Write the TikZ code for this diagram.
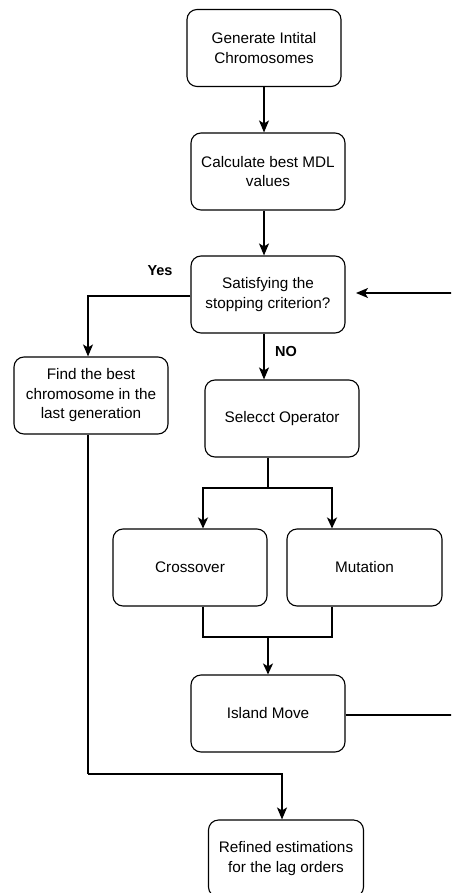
\documentclass[tikz,border=0pt]{standalone}
\usepackage{fontspec}
\setmainfont{Liberation Sans}
\usetikzlibrary{arrows.meta}
\begin{document}
\begin{tikzpicture}[x=1pt,y=-1pt,
  box/.style={draw=black,line width=1.1pt,rounded corners=10pt,minimum width=154pt,minimum height=77pt,align=center,inner sep=2pt,font=\fontsize{15.3}{19.5}\selectfont},
  conn/.style={line width=1.3pt,-{Stealth[length=12pt,width=10pt,inset=3pt]}},
  line/.style={line width=1.3pt},
  tconn/.style={line width=2.6pt,-{Stealth[length=11pt,width=10pt,inset=3pt]}},
  tline/.style={line width=2.6pt},
  lbl/.style={font=\fontsize{14.5}{17}\selectfont\bfseries,inner sep=0pt}]
\useasboundingbox (0,0) rectangle (451,893);
\clip (0,0) rectangle (451,893);
\node[box] (b1) at (264,48) {Generate Intital\\Chromosomes};
\node[box] (b2) at (268,171.5) {Calculate best MDL\\values};
\node[box] (b3) at (268,294.5) {Satisfying the\\stopping criterion?};
\node[box] (b4) at (91,395.5) {Find the best\\chromosome in the\\last generation};
\node[box] (b5) at (282,418.5) {Selecct Operator};
\node[box] (cx) at (190,567.5) {Crossover};
\node[box,minimum width=155pt] (mu) at (364.5,567.5) {Mutation};
\node[box] (im) at (268,713.5) {Island Move};
\node[box,minimum width=155pt] (rf) at (286,858.5) {Refined estimations\\for the lag orders};
\node[lbl] (yes) at (160,271) {Yes};
\node[lbl] (no) at (286,352) {NO};
\coordinate (split) at (268,488);
\coordinate (merge) at (268,637);
\coordinate (loopA) at (452,715);
\coordinate (loopB) at (452,293);
\coordinate (loopTip) at (356,293);
\coordinate (yesY) at (0,296);
\coordinate (corner) at (88,774);
\draw[conn] (b1.south) -- (b1.south |- b2.north);
\draw[conn] (b2.south -| b1.south) -- (b3.north -| b1.south);
\draw[conn] (b3.south -| b1.south) -- (b5.north -| b1.south);
\draw[conn] (b3.west |- yesY) -| ([xshift=-3pt]b4.north);
\draw[tline] (b5.south -| split) -- (split);
\draw[tconn] (split) -| ([xshift=13pt]cx.north);
\draw[tconn] (split) -| ([xshift=-32.5pt]mu.north);
\draw[tline] ([xshift=13pt]cx.south) |- (merge) -| ([xshift=-32.5pt]mu.south);
\draw[tconn] (merge) -- (im.north -| merge);
\draw[line] (im.east |- loopA) -- (loopA);
\draw[conn] (loopB) -- (loopTip);
\draw[line] ([xshift=-3pt]b4.south) -- (corner);
\draw[conn] (corner) -| ([xshift=-4pt]rf.north);
\end{tikzpicture}
\end{document}
